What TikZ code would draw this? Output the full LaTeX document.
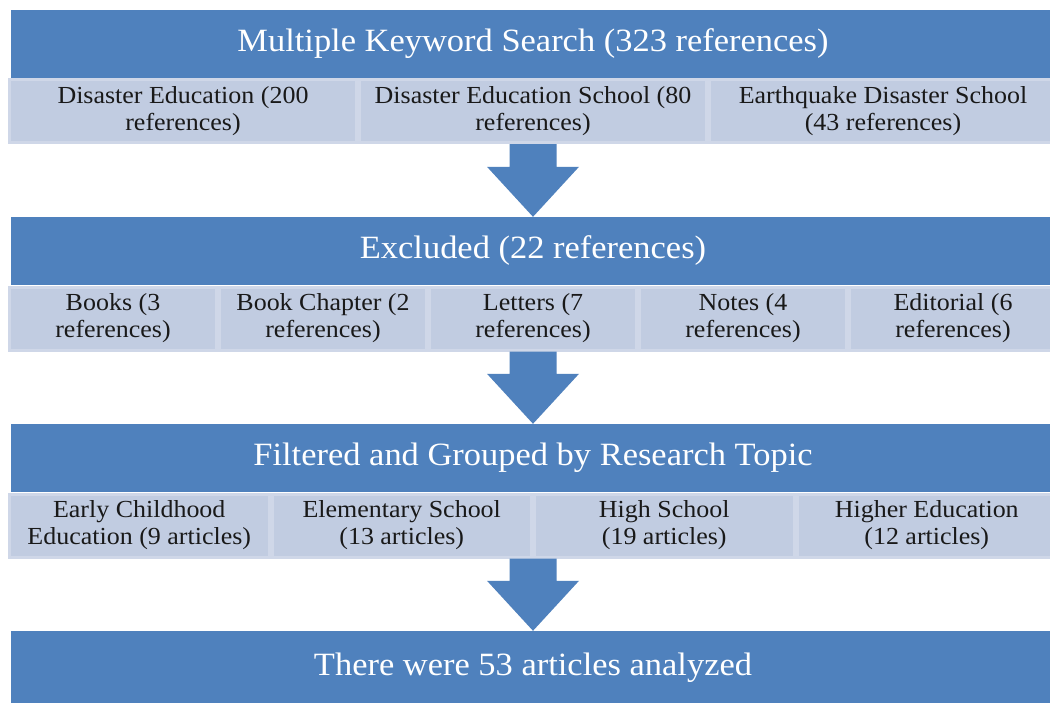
\documentclass[tikz,border=0pt]{standalone}
\usepackage{fontspec}
\setmainfont{Liberation Serif}[FakeStretch=1.06]
\definecolor{barblue}{HTML}{4F81BD}
\definecolor{cellfill}{HTML}{C1CCE1}
\definecolor{celledge}{HTML}{CFD7E8}
\usetikzlibrary{calc}

\begin{document}
\begin{tikzpicture}[
  x=1pt, y=-1pt,
  bar/.style={fill=barblue, inner sep=0pt, minimum width=1044pt, minimum height=68pt, text=white, font=\fontsize{32.5}{38}\selectfont},
  cell/.style={fill=cellfill, draw=celledge, line width=3pt, inner sep=0pt, minimum height=63pt, align=center, text=black!90, font=\fontsize{24.5}{27}\selectfont},
  blockarr/.style={fill=barblue},
]
  \useasboundingbox[fill=white] (0,0) rectangle (1050,702);

  % stage 1
  \node[bar] (kwsearch) at (533,44) {Multiple Keyword Search (323 references)};
  \node[cell, minimum width=347pt] (kw1) at (183,111) {Disaster Education (200\\references)};
  \node[cell, minimum width=347pt] (kw2) at (533,111) {Disaster Education School (80\\references)};
  \node[cell, minimum width=347pt] (kw3) at (883,111) {Earthquake Disaster School\\(43 references)};

  % stage 2
  \node[bar] (excluded) at (533,251) {Excluded (22 references)};
  \node[cell, minimum width=207pt] (ex1) at (113,318.5) {Books (3\\references)};
  \node[cell, minimum width=207pt] (ex2) at (323,318.5) {Book Chapter (2\\references)};
  \node[cell, minimum width=207pt] (ex3) at (533,318.5) {Letters (7\\references)};
  \node[cell, minimum width=207pt] (ex4) at (743,318.5) {Notes (4\\references)};
  \node[cell, minimum width=207pt] (ex5) at (953,318.5) {Editorial (6\\references)};

  % stage 3
  \node[bar] (filtered) at (533,458) {Filtered and Grouped by Research Topic};
  \node[cell, minimum width=259.5pt] (tp1) at (139.25,525.5) {Early Childhood\\Education (9 articles)};
  \node[cell, minimum width=259.5pt] (tp2) at (401.75,525.5) {Elementary School\\(13 articles)};
  \node[cell, minimum width=259.5pt] (tp3) at (664.25,525.5) {High School\\(19 articles)};
  \node[cell, minimum width=259.5pt] (tp4) at (926.75,525.5) {Higher Education\\(12 articles)};

  % result
  \node[bar, minimum height=74pt] (analyzed) at (533,668) {\raisebox{2pt}{There were 53 articles analyzed}};

  % block arrows between stages
  \foreach \src/\dst in {kw2/excluded, ex3/filtered, tp2/analyzed}{
    \coordinate (top) at (\dst.north |- \src.south);
    \fill[blockarr] ($(top)+(-23.5,0)$) -- ($(\dst.north)+(-23.5,-50)$) -- ($(\dst.north)+(-46,-50)$)
      -- (\dst.north) -- ($(\dst.north)+(46,-50)$) -- ($(\dst.north)+(23.5,-50)$) -- ($(top)+(23.5,0)$) -- cycle;
  }
\end{tikzpicture}
\end{document}
